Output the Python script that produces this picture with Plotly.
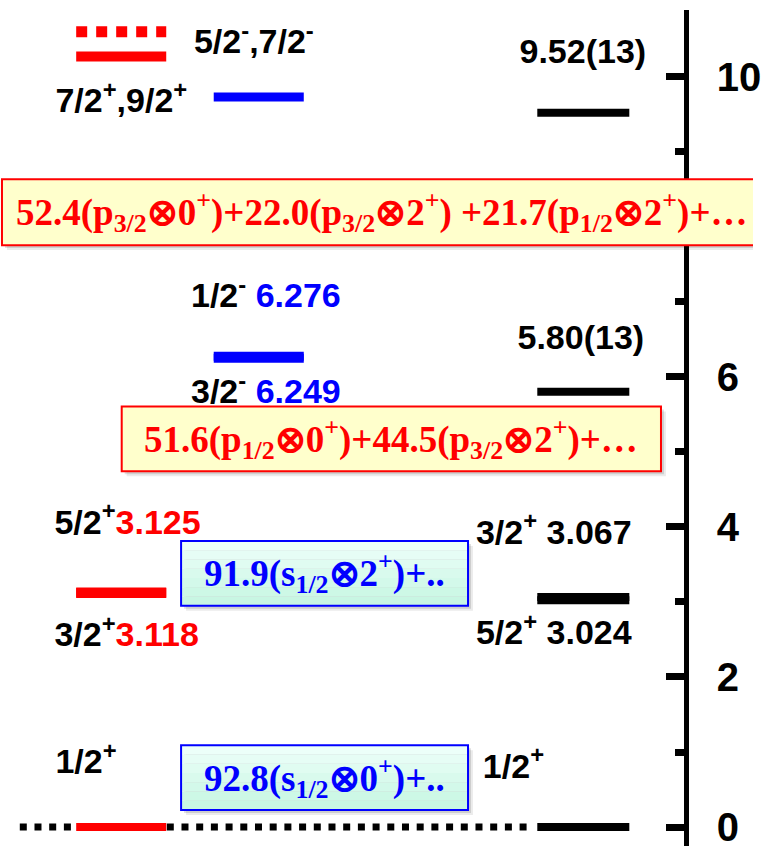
import plotly.graph_objects as go

# ---------------- data ----------------
# theory, positive parity (red column)
red_energies = [0.0, 3.118, 3.125, 10.27]
red_dotted_energies = [10.60]
# theory, negative parity (blue column)
blue_energies = [6.249, 6.276, 9.73]
# experiment (black column)
exp_energies = [0.0, 3.024, 3.067, 5.80, 9.52]

# configuration decompositions (percent)
box1_amps = [52.4, 22.0, 21.7]
box1_cfg = [("p", "3/2", "0"), ("p", "3/2", "2"), ("p", "1/2", "2")]
box2_amps = [51.6, 44.5]
box2_cfg = [("p", "1/2", "0"), ("p", "3/2", "2")]
box3_amps = [91.9]
box3_cfg = [("s", "1/2", "2")]
box4_amps = [92.8]
box4_cfg = [("s", "1/2", "0")]

tick_vals = [0, 2, 4, 6, 8, 10]
tick_text = ["0", "2", "4", "6", "", "10"]  # "8" is hidden behind the top box

# ---------------- layout helpers (pixel geometry) ----------------
W, H = 761, 849
Y0_PX, PPU = 830.0, 75.3
AXIS_X = 693


def ey(py):
    return (Y0_PX - py) / PPU


RED_X = (77, 168)
BLUE_X = (216, 307)
EXP_X = (543, 636)
GROUND_X = (20, 537)

SANS = "Liberation Sans, Arial, sans-serif"
SERIF = "Liberation Serif, Times New Roman, serif"

fig = go.Figure()


def hline(x, e, color, width, dash="solid"):
    fig.add_trace(go.Scatter(x=list(x), y=[e, e], mode="lines",
                             line=dict(color=color, width=width, dash=dash),
                             hoverinfo="skip", showlegend=False))


# ground-state dotted line across
hline(GROUND_X, 0.0, "black", 7, "7px,7.7px")
for e in red_energies:
    hline(RED_X, e, "#ff0000", 8 if e < 1 else 10)
for e in red_dotted_energies:
    hline(RED_X, e, "#ff0000", 11, "11px,9px")
for e in blue_energies:
    hline(BLUE_X, e, "#0000ff", 9)
for e in exp_energies:
    hline(EXP_X, e, "black", 8)

# level labels (as text traces so boxes can sit on top)
RED = "<span style='color:#ff0000'>%s</span>"
BLUE = "<span style='color:#0000ff'>%s</span>"
left_labels = [
    (56, 104, "7/2<sup>+</sup>,9/2<sup>+</sup>"),
    (196, 45, "5/2<sup>-</sup>,7/2<sup>-</sup>"),
    (193, 300, "1/2<sup>-</sup> " + BLUE % "6.276"),
    (193, 396, "3/2<sup>-</sup> " + BLUE % "6.249"),
    (55, 527, "5/2<sup>+</sup>" + RED % "3.125"),
    (55, 640, "3/2<sup>+</sup>" + RED % "3.118"),
    (481, 537, "3/2<sup>+</sup> 3.067"),
    (481, 638, "5/2<sup>+</sup> 3.024"),
    (56, 767, "1/2<sup>+</sup>"),
    (488, 772, "1/2<sup>+</sup>"),
]
center_labels = [
    (589, 55, "9.52(13)"),
    (587, 342, "5.80(13)"),
]
LABEL_FONT = dict(family=SANS, size=34, color="black", weight="bold")
fig.add_trace(go.Scatter(
    x=[l[0] for l in left_labels], y=[ey(l[1]) for l in left_labels],
    text=[l[2] for l in left_labels], mode="text", textposition="middle right",
    textfont=LABEL_FONT, hoverinfo="skip", showlegend=False))
fig.add_trace(go.Scatter(
    x=[l[0] for l in center_labels], y=[ey(l[1]) for l in center_labels],
    text=[l[2] for l in center_labels], mode="text", textposition="middle center",
    textfont=LABEL_FONT, hoverinfo="skip", showlegend=False))


def cfg_text(amps, cfgs):
    parts = []
    for a, (l, j, core) in zip(amps, cfgs):
        parts.append("%.1f(%s<sub>%s</sub>⊗%s<sup>+</sup>)" % (a, l, j, core))
    return parts


shapes = []
annots = []


def box(x0, y0, x1, y1, border, fills, text, tcolor, size):
    # soft shadow
    for k, a in ((5, 0.08), (3, 0.12)):
        shapes.append(dict(type="rect", xref="x", yref="y", layer="above",
                           x0=x0 + k, x1=x1 + k, y0=ey(y1 + k), y1=ey(y0 + k),
                           fillcolor="rgba(0,0,0,%s)" % a, line=dict(width=0)))
    n = len(fills)
    for i, c in enumerate(fills):
        ya = y0 + (y1 - y0) * i / n
        yb = y0 + (y1 - y0) * (i + 1) / n
        shapes.append(dict(type="rect", xref="x", yref="y", layer="above",
                           x0=x0, x1=x1, y0=ey(yb), y1=ey(ya),
                           fillcolor=c, line=dict(width=0)))
    shapes.append(dict(type="rect", xref="x", yref="y", layer="above",
                       x0=x0, x1=x1, y0=ey(y1), y1=ey(y0),
                       fillcolor="rgba(0,0,0,0)", line=dict(color=border, width=2)))
    annots.append(dict(x=(x0 + x1) / 2, y=ey((y0 + y1) / 2), xref="x", yref="y",
                       text=text, showarrow=False, xanchor="center", yanchor="middle",
                       font=dict(family=SERIF, size=size, color=tcolor, weight="bold")))


yellow = ["#ffffcc"]
mint = ["#ecfff9", "#e6fdf5", "#e0fcf1", "#d9faed", "#d3f9ea", "#cdf8e6", "#c8f6e3"]

p1 = cfg_text(box1_amps, box1_cfg)
box(2, 180, 770, 246, "#ff0000", yellow, p1[0] + "+" + p1[1] + " +" + p1[2] + "+…", "#ff0000", 37)
p2 = cfg_text(box2_amps, box2_cfg)
box(123, 408, 668, 473, "#ff0000", yellow, p2[0] + "+" + p2[1] + "+…", "#ff0000", 37)
p3 = cfg_text(box3_amps, box3_cfg)
box(183, 543, 473, 608, "#0000ff", mint, p3[0] + "+..", "#0000ff", 37)
p4 = cfg_text(box4_amps, box4_cfg)
box(183, 748, 473, 813, "#0000ff", mint, p4[0] + "+..", "#0000ff", 37)

fig.update_layout(
    width=W, height=H, margin=dict(l=0, r=0, t=0, b=0),
    paper_bgcolor="white", plot_bgcolor="white",
    shapes=shapes, annotations=annots, showlegend=False,
    xaxis=dict(range=[0, W], domain=[0, 1], visible=False, fixedrange=True),
    yaxis=dict(range=[ey(H), ey(10)], domain=[0, 1 - 10 / H],
               anchor="free", position=AXIS_X / W, side="right",
               showline=True, linecolor="black", linewidth=5,
               showgrid=False, zeroline=False,
               tickmode="array", tickvals=tick_vals, ticktext=tick_text,
               ticks="inside", ticklen=18, tickwidth=7, tickcolor="black",
               ticklabelstandoff=20, ticklabeloverflow="allow",
               tickfont=dict(family=SANS, size=40, color="black", weight="bold"),
               minor=dict(ticks="inside", ticklen=9, tickwidth=7, tickcolor="black", dtick=1, tick0=0),
               fixedrange=True),
)

fig.write_html("out.html", config={"displayModeBar": False},
               post_script="document.body.style.margin='0px';")
